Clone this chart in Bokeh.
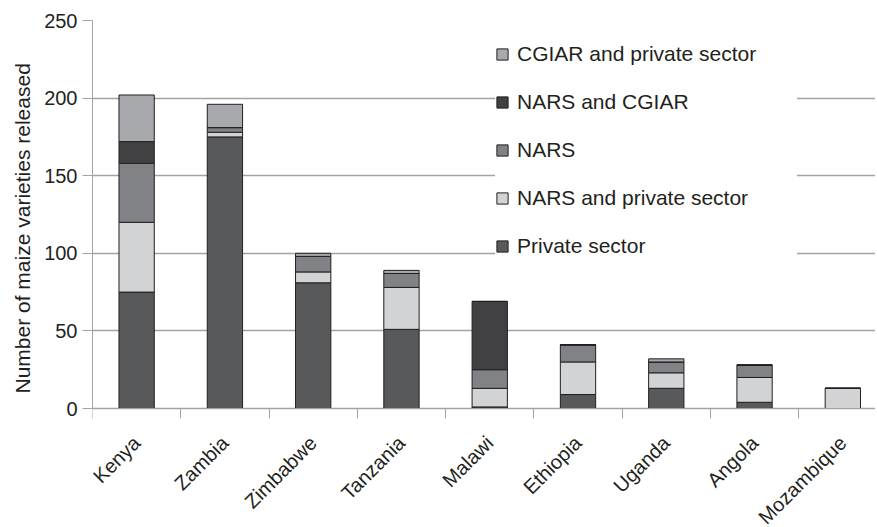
import math
from bokeh.plotting import figure
from bokeh.models import ColumnDataSource, FixedTicker, Legend, LegendItem, Range1d, Title
from bokeh.embed import file_html
from bokeh.resources import INLINE

countries = ["Kenya", "Zambia", "Zimbabwe", "Tanzania", "Malawi",
             "Ethiopia", "Uganda", "Angola", "Mozambique"]
private_sector = [75, 175, 81, 51, 1, 9, 13, 4, 0]
nars_private = [45, 3, 7, 27, 12, 21, 10, 16, 13]
nars = [38, 3, 10, 9, 12, 11, 7, 8, 0]
nars_cgiar = [14, 0, 0, 0, 44, 0, 0, 0, 0]
cgiar_private = [30, 15, 2, 2, 0, 0, 2, 0, 0]
series_names = ["Private sector", "NARS and private sector", "NARS",
                "NARS and CGIAR", "CGIAR and private sector"]
colors = ["#58595b", "#d1d3d4", "#808285", "#414042", "#a7a9ac"]
y_ticks = [0, 50, 100, 150, 200, 250]
y_label = "Number of maize varieties released"

FONT = "Liberation Sans"
TEXT = "#231f20"
GRID = "#a3a3a3"

W, H = 875, 525
TOP, AXIS_Y, LEFT = 20, 408, 92          # pixel layout of the plot area
y_max = y_ticks[-1]
y_min = -(H - AXIS_Y) * y_max / (AXIS_Y - TOP)   # extend frame below zero for the labels

x_pos = [i + 0.5 for i in range(len(countries))]
boundaries = list(range(len(countries) + 1))
keys = ["s0", "s1", "s2", "s3", "s4"]
source = ColumnDataSource(dict(x=x_pos, s0=private_sector, s1=nars_private, s2=nars,
                               s3=nars_cgiar, s4=cgiar_private))

p = figure(width=W, height=H, x_range=Range1d(0, 8.87), y_range=Range1d(y_min, y_max),
           output_backend="svg", toolbar_location=None,
           min_border_left=LEFT, min_border_top=TOP, min_border_right=0, min_border_bottom=0)
p.outline_line_color = None
p.background_fill_color = "white"
p.border_fill_color = "white"

renderers = p.vbar_stack(keys, x="x", width=0.4, color=colors, source=source,
                         line_color="#231f20", line_width=1)

# y axis
p.yaxis.ticker = FixedTicker(ticks=y_ticks)
p.yaxis.bounds = (0, y_max)
p.yaxis.axis_line_color = GRID
p.yaxis.major_tick_line_color = GRID
p.yaxis.major_tick_out = 10
p.yaxis.major_tick_in = 0
p.yaxis.minor_tick_line_color = None
p.yaxis.major_label_text_font = FONT
p.yaxis.major_label_text_font_size = "20px"
p.yaxis.major_label_text_color = TEXT
p.yaxis.major_label_standoff = 5

# y axis title, starting just above the zero line
ytitle = Title(text=y_label, align="left", offset=(H - AXIS_Y) + 15, standoff=16,
               text_font=FONT, text_font_size="21px", text_font_style="normal",
               text_color=TEXT)
p.add_layout(ytitle, "left")

p.ygrid.ticker = FixedTicker(ticks=y_ticks)
p.ygrid.grid_line_color = GRID
p.ygrid.grid_line_width = 1.5
p.xgrid.visible = False

# x axis at y = 0: tick marks at category boundaries, labels at centres
p.xaxis.fixed_location = 0
p.xaxis.ticker = FixedTicker(ticks=x_pos, minor_ticks=boundaries)
p.xaxis.major_label_overrides = {x: c for x, c in zip(x_pos, countries)}
p.xaxis.major_label_orientation = math.pi / 4
p.xaxis.axis_line_color = GRID
p.xaxis.major_tick_line_color = None
p.xaxis.major_tick_out = 0
p.xaxis.major_tick_in = 0
p.xaxis.minor_tick_line_color = GRID
p.xaxis.minor_tick_out = 10
p.xaxis.minor_tick_in = 0
p.xaxis.major_label_text_font = FONT
p.xaxis.major_label_text_font_size = "20px"
p.xaxis.major_label_text_color = TEXT
p.xaxis.major_label_standoff = 21

items = [LegendItem(label=n, renderers=[r]) for n, r in zip(series_names, renderers)]
items.reverse()
legend = Legend(items=items, location=(403, 150 + (H - AXIS_Y)), orientation="vertical",
                padding=13, spacing=24, label_height=24, glyph_height=14, glyph_width=14,
                label_standoff=8, label_width=280, margin=0,
                label_text_font=FONT, label_text_font_size="21px", label_text_color=TEXT,
                border_line_color=None, background_fill_color="white", background_fill_alpha=1.0)
p.add_layout(legend)

open("out.html", "w").write(file_html(p, INLINE))
